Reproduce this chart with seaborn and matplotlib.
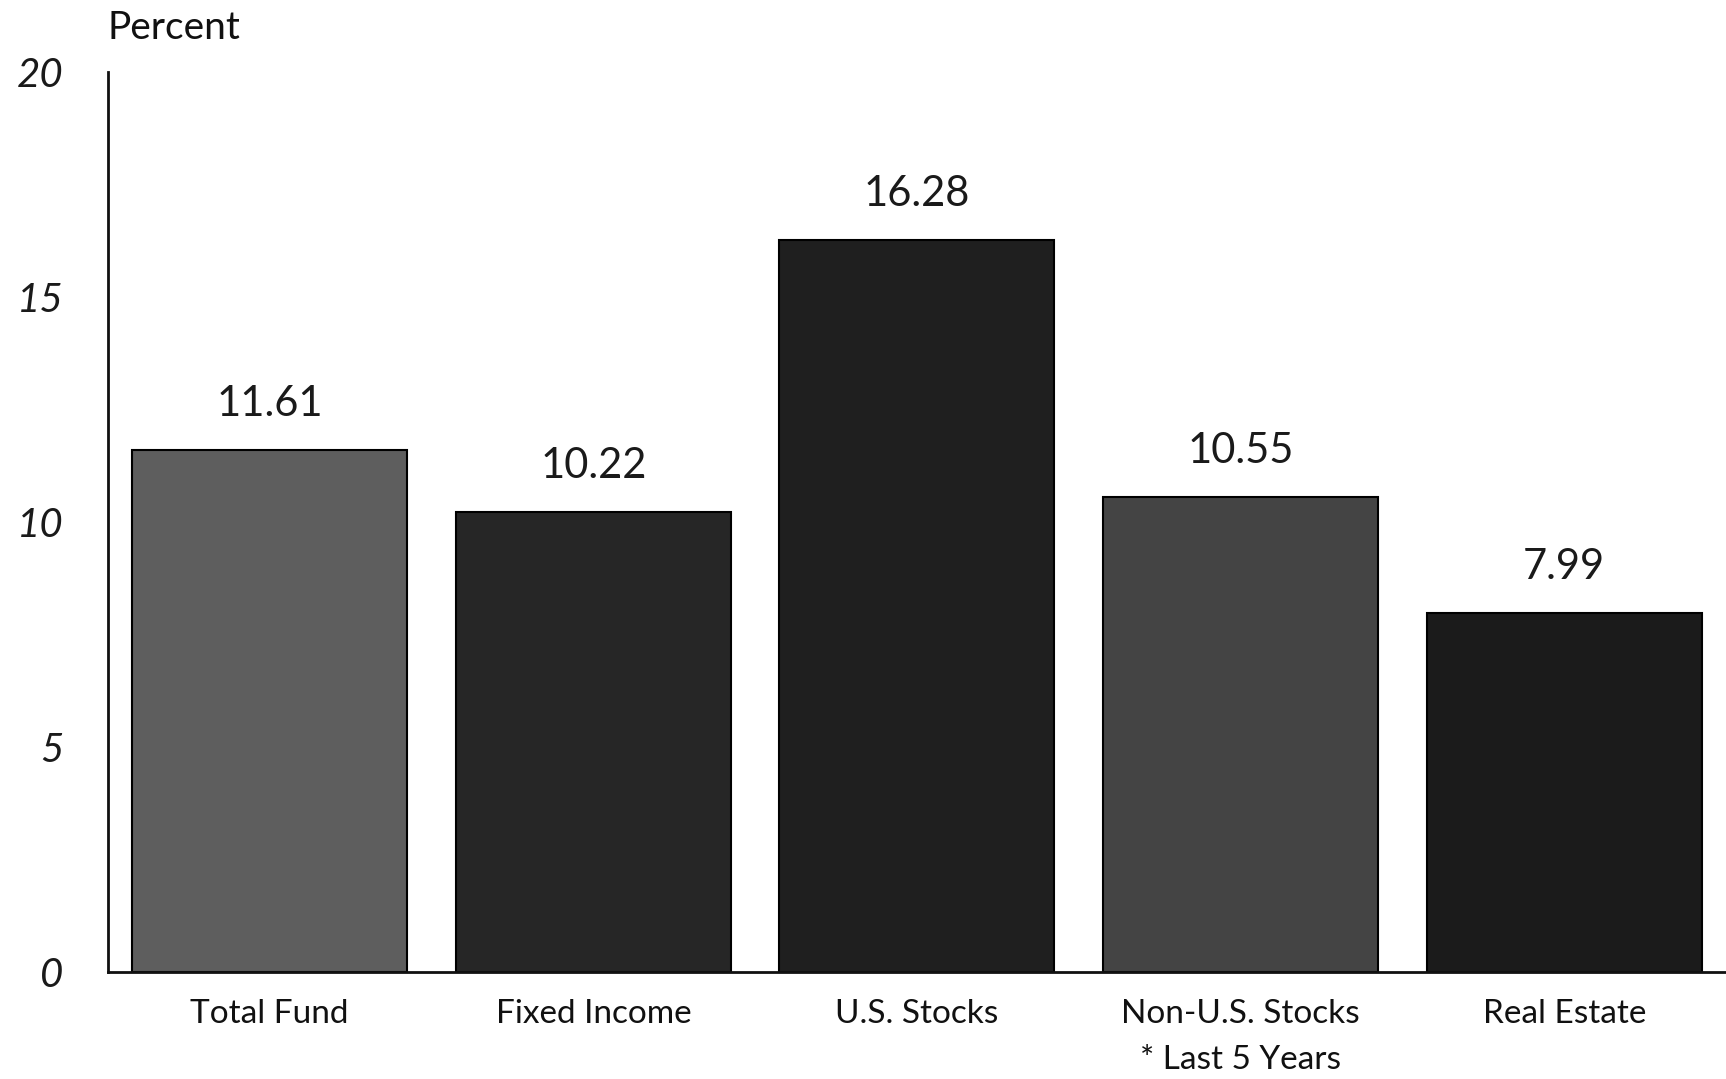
import matplotlib
matplotlib.use("Agg")
import matplotlib.pyplot as plt
import seaborn as sns
import pandas as pd

# Annualized returns by asset class (percent)
categories = ["Total Fund", "Fixed Income", "U.S. Stocks", "Non-U.S. Stocks\n* Last 5 Years", "Real Estate"]
returns = [11.61, 10.22, 16.28, 10.55, 7.99]
value_labels = ["11.61", "10.22", "16.28", "10.55", "7.99"]
bar_colors = ["#5e5e5e", "#262626", "#1f1f1f", "#444444", "#1b1b1b"]
y_ticks = [0, 5, 10, 15, 20]

df = pd.DataFrame({"category": categories, "ret": returns})

sns.set_theme(style="white")
plt.rcParams["font.family"] = ["Lato", "DejaVu Sans"]

fig = plt.figure(figsize=(17.26, 10.79), dpi=100)
ax = fig.add_axes([0.0625, 0.099, 0.9375, 0.834])

sns.barplot(data=df, x="category", y="ret", hue="category", palette=bar_colors,
            legend=False, width=0.85, edgecolor="black", linewidth=1.5,
            saturation=1, ax=ax)

for i, (v, lab) in enumerate(zip(returns, value_labels)):
    ax.text(i, v + 0.6, lab, ha="center", va="bottom", fontsize=30,
            color="#1a1a1a")

ax.set_xlim(-0.5, 4.5)
ax.set_ylim(0, 20)
ax.set_yticks(y_ticks)
ax.set_yticklabels([str(t) for t in y_ticks], fontsize=29, style="italic",
                   color="#1a1a1a")
ax.tick_params(axis="y", length=0, pad=32)
ax.tick_params(axis="x", length=0, pad=19, labelsize=24, colors="#111111")
for lbl in ax.get_xticklabels():
    lbl.set_linespacing(1.7)
    lbl.set_verticalalignment("top")

ax.set_xlabel("")
ax.set_ylabel("")
for side in ["top", "right"]:
    ax.spines[side].set_visible(False)
for side in ["left", "bottom"]:
    ax.spines[side].set_color("#111111")
    ax.spines[side].set_linewidth(2)

fig.text(0.062, 0.974, "Percent", ha="left", va="center", fontsize=28,
         color="#111111")

fig.savefig("out.png", dpi=100, facecolor="white")
